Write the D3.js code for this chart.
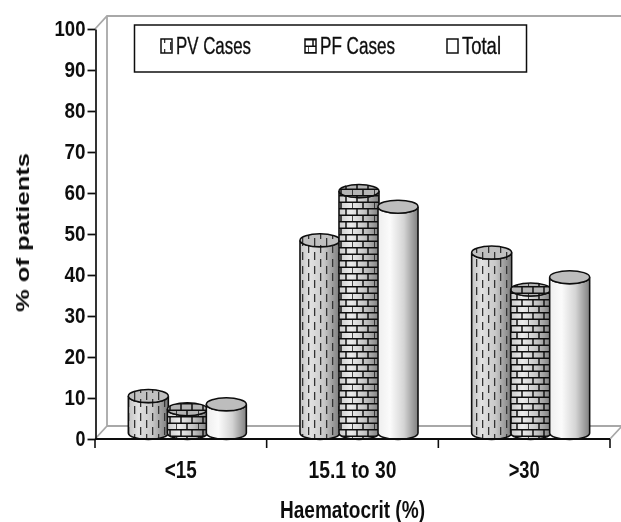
<!DOCTYPE html>
<html><head><meta charset="utf-8">
<script src="https://cdn.jsdelivr.net/npm/d3@7"></script>
<style>html,body{margin:0;padding:0;background:#fff}svg{display:block}
text{font-family:"Liberation Sans",Arial,sans-serif;font-weight:700;fill:#111}</style>
</head><body><div id="c"></div>
<script>
const categories = ["<15", "15.1 to 30", ">30"];
const categoryWidths = [32, 88, 31];
const seriesNames = ["PV Cases", "PF Cases", "Total"];
const legendWidths = [75, 75, 39];
const pvValues = [9, 47, 44];
const pfValues = [5.8, 59, 35];
const totalValues = [7, 55.2, 38];
const yTicks = [0,10,20,30,40,50,60,70,80,90,100];
const seriesValues = [pvValues, pfValues, totalValues];

const W=621,H=522;
const svg=d3.select("#c").append("svg").attr("width",W).attr("height",H);
const defs=svg.append("defs");
const soft=defs.append("filter").attr("id","soft").attr("x","-5%").attr("y","-5%").attr("width","110%").attr("height","110%");
soft.append("feGaussianBlur").attr("stdDeviation",0.55);

const yAxisScale=d3.scaleLinear().domain([0,100]).range([439,29]);
const x0=d3.scaleBand().domain(categories).range([95,610]);
const x1=d3.scaleBand().domain(seriesNames).range([0,117]).padding(0);
const depthX=12, depthY=13, barW=40, ry=6.5;
const barBase=433;
const yBar=v=>barBase-(yAxisScale(0)-yAxisScale(v));

const g=svg.append("g").attr("filter","url(#soft)");
const wallColor="#a8a8a8";
g.append("path").attr("fill","none").attr("stroke",wallColor).attr("stroke-width",1.8)
 .attr("d",`M95,${yAxisScale(100)}L${95+depthX},${yAxisScale(100)-depthY}H621`);
g.append("path").attr("fill","none").attr("stroke",wallColor).attr("stroke-width",1.8)
 .attr("d",`M${95+depthX},${yAxisScale(100)-depthY}V${439-depthY}H622L610,439`);
g.append("path").attr("fill","none").attr("stroke",wallColor).attr("stroke-width",1.8)
 .attr("d",`M95,439L${95+depthX},${439-depthY}`);

function grad(id,stops){
  const l=defs.append("linearGradient").attr("id",id);
  stops.forEach(s=>l.append("stop").attr("offset",s[0]).attr("stop-color",s[1]));
}
grad("gPV",[[0,"#c4c4c4"],[0.25,"#e2e2e2"],[0.6,"#c8c8c8"],[1,"#7a7a7a"]]);
grad("gPF",[[0,"#c8c8c8"],[0.3,"#ececec"],[0.65,"#c4c4c4"],[1,"#7e7e7e"]]);
grad("gT",[[0,"#eeeeee"],[0.3,"#fbfbfb"],[0.65,"#d4d4d4"],[1,"#808080"]]);

const pv=defs.append("pattern").attr("id","pPV").attr("patternUnits","userSpaceOnUse").attr("width",12).attr("height",14);
pv.append("rect").attr("x",2).attr("y",0).attr("width",1.3).attr("height",8).attr("fill","#333");
pv.append("rect").attr("x",8).attr("y",7).attr("width",1.3).attr("height",7).attr("fill","#333");
pv.append("rect").attr("x",8).attr("y",0).attr("width",1.3).attr("height",1).attr("fill","#333");

const pf=defs.append("pattern").attr("id","pPF").attr("patternUnits","userSpaceOnUse").attr("width",22).attr("height",13);
pf.append("path").attr("fill","none").attr("stroke","#111").attr("stroke-width",1.5)
  .attr("d","M0,0.7H22M0,7.2H22M5,0.7V7.2M16,0.7V7.2M0,7.2V13M11,7.2V13");

const patternOf={"PV Cases":"pPV","PF Cases":"pPF","Total":null};
const gradOf={"PV Cases":"gPV","PF Cases":"gPF","Total":"gT"};
const topFill={"PV Cases":"#c0c0c0","PF Cases":"#b4b4b4","Total":"#bdbdbd"};

const rows=categories.flatMap((c,i)=>seriesNames.map((s,j)=>({c,s,v:seriesValues[j][i]})));
const bars=g.selectAll("g.bar").data(rows).join("g").attr("class","bar");
const barX=d=>x0(d.c)+x0.bandwidth()/2-117/2+6+x1(d.s);
function side(d){
  const x=barX(d), t=yBar(d.v), w=barW;
  return `M${x},${t}V${barBase}A${w/2},${ry} 0 0 0 ${x+w},${barBase}V${t}A${w/2},${ry} 0 0 1 ${x},${t}Z`;
}
function cap(d){
  const x=barX(d), t=yBar(d.v), w=barW;
  return `M${x},${t}A${w/2},${ry} 0 1 1 ${x+w},${t}A${w/2},${ry} 0 1 1 ${x},${t}Z`;
}
bars.append("path").attr("d",side).attr("fill",d=>`url(#${gradOf[d.s]})`);
bars.filter(d=>patternOf[d.s]).append("path").attr("d",side).attr("fill",d=>`url(#${patternOf[d.s]})`);
bars.append("path").attr("d",side).attr("fill","none").attr("stroke","#111").attr("stroke-width",1.6);
bars.append("path").attr("d",cap).attr("fill",d=>topFill[d.s]);
bars.filter(d=>patternOf[d.s]).append("path").attr("d",cap).attr("fill",d=>`url(#${patternOf[d.s]})`);
bars.append("path").attr("d",cap).attr("fill","none").attr("stroke","#111").attr("stroke-width",1.5);

const axisY=d3.axisLeft(yAxisScale).tickValues(yTicks).tickSize(8).tickPadding(2).tickSizeOuter(0);
const ay=g.append("g").attr("transform","translate(95.5,0)").call(axisY);
ay.selectAll("line,path").attr("stroke","#111").attr("stroke-width",1.7);
ay.attr("font-family",null).attr("font-size",null);
ay.selectAll("text").attr("font-size",22).attr("fill","#111").attr("dy","0.31em")
  .attr("textLength",d=>d===100?31:d===0?10:21).attr("lengthAdjust","spacingAndGlyphs");

const xTicks=[95,...categories.map(c=>x0(c)+x0.bandwidth())];
const ax=g.append("g");
ax.append("line").attr("x1",95).attr("x2",610).attr("y1",439).attr("y2",439).attr("stroke","#111").attr("stroke-width",1.8);
ax.selectAll("line.t").data(xTicks).join("line").attr("class","t")
  .attr("x1",d=>d).attr("x2",d=>d).attr("y1",439).attr("y2",448).attr("stroke","#111").attr("stroke-width",1.6);
g.selectAll("text.cat").data(categories).join("text").attr("class","cat")
  .attr("x",c=>x0(c)+x0.bandwidth()/2).attr("y",478).attr("text-anchor","middle").attr("font-size",23)
  .attr("textLength",(c,i)=>categoryWidths[i]).attr("lengthAdjust","spacingAndGlyphs").text(c=>c);

g.append("text").attr("x",352.5).attr("y",518).attr("text-anchor","middle").attr("font-size",23)
 .attr("textLength",145).attr("lengthAdjust","spacingAndGlyphs").text("Haematocrit (%)");
g.append("text").attr("transform","translate(29,232.5) rotate(-90)").attr("text-anchor","middle")
 .attr("font-size",18).attr("textLength",159).attr("lengthAdjust","spacingAndGlyphs").text("% of patients");

const lg=g.append("g");
lg.append("rect").attr("x",134.5).attr("y",25).attr("width",392).attr("height",47).attr("fill","#fff").attr("stroke","#111").attr("stroke-width",1.5);
const legX=[161,305,447];
seriesNames.forEach((s,i)=>{
  const sw=lg.append("g");
  sw.append("rect").attr("x",legX[i]).attr("y",39).attr("width",11).attr("height",14).attr("fill","#fff");
  if(patternOf[s]) sw.append("rect").attr("x",legX[i]).attr("y",39).attr("width",11).attr("height",14).attr("fill",`url(#${patternOf[s]})`);
  sw.append("rect").attr("x",legX[i]).attr("y",39).attr("width",11).attr("height",14).attr("fill","none").attr("stroke","#111").attr("stroke-width",1.5);
  lg.append("text").attr("x",legX[i]+15).attr("y",54).attr("font-size",23).style("font-weight",400).attr("stroke","#111").attr("stroke-width",0.35)
    .attr("textLength",legendWidths[i]).attr("lengthAdjust","spacingAndGlyphs").text(s);
});
</script></body></html>
